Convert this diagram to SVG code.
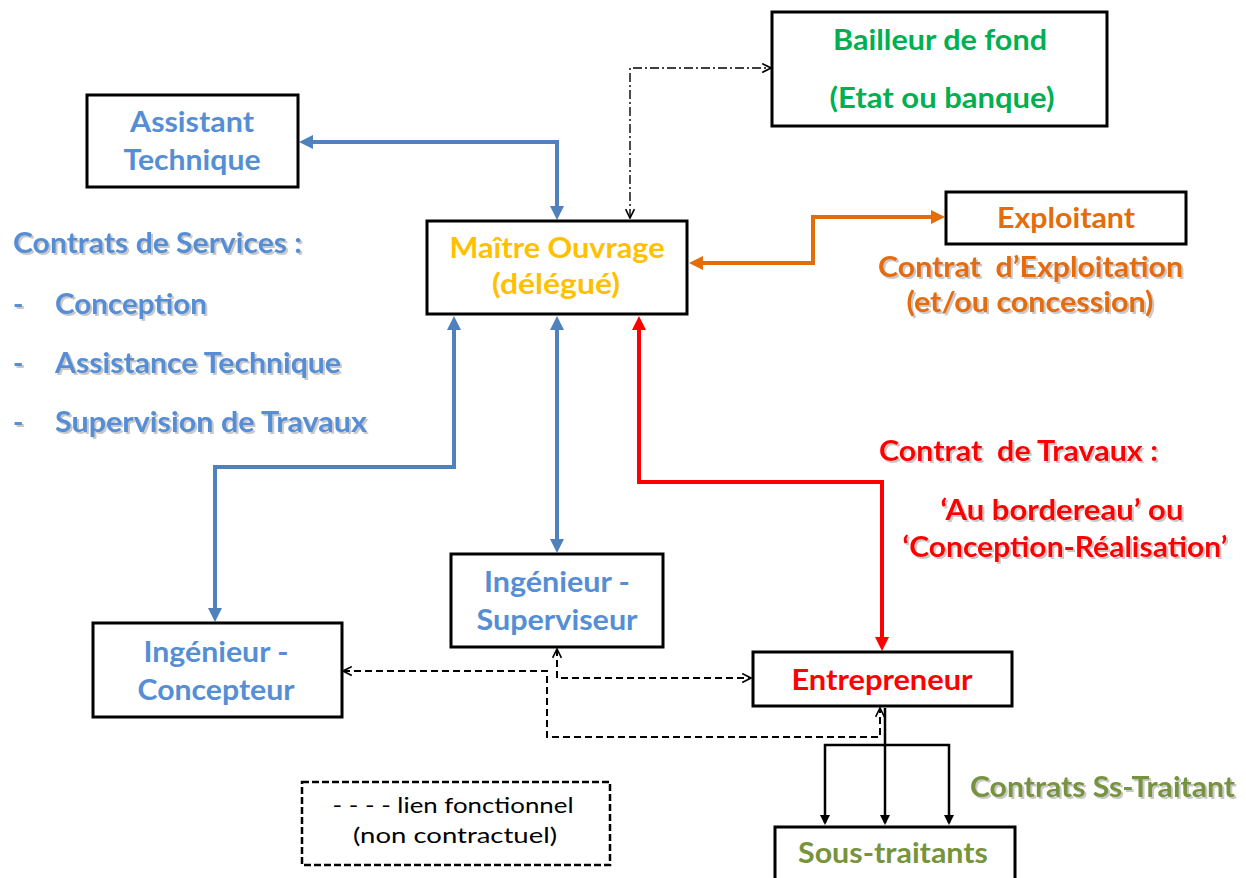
<svg xmlns="http://www.w3.org/2000/svg" width="1246" height="878" viewBox="0 0 1246 878">
<style>
.box{fill:#fff;stroke:#000;stroke-width:3}
.t{font-family:Lato,"Open Sans","DejaVu Sans",sans-serif;font-weight:bold;font-size:29px;text-anchor:middle}
.l{font-family:Lato,"Open Sans","DejaVu Sans",sans-serif;font-weight:bold;font-size:28px}
.blue{fill:#558ED5}.yel{fill:#FFC000}.grn{fill:#00B050}.org{fill:#E46C0A}.red{fill:#FF0000}.olv{fill:#77933C}
.sh{filter:url(#shadow)}
.cb{fill:none;stroke:#4F81BD;stroke-width:4}
.co{fill:none;stroke:#E46C0A;stroke-width:4}
.cr{fill:none;stroke:#FF0000;stroke-width:4}
.ck{fill:none;stroke:#000;stroke-width:2.5}
.cd{fill:none;stroke:#000;stroke-width:2;stroke-dasharray:7 4}
.cdd{fill:none;stroke:#000;stroke-width:1.4;stroke-dasharray:9 3 2 3}
.leg{font-family:Lato,"Open Sans","DejaVu Sans",sans-serif;font-size:22px;text-anchor:middle;fill:#000}
</style>
<defs>
<filter id="shadow" x="-5%" y="-20%" width="110%" height="150%">
<feDropShadow dx="2" dy="2" stdDeviation="0.7" flood-color="#888" flood-opacity="0.45"/>
</filter>
<marker id="mB" viewBox="0 0 14 14" refX="10" refY="7" markerWidth="14" markerHeight="14" markerUnits="userSpaceOnUse" orient="auto-start-reverse"><path d="M0,0 L14,7 L0,14 z" fill="#4F81BD"/></marker>
<marker id="mO" viewBox="0 0 14 14" refX="10" refY="7" markerWidth="14" markerHeight="14" markerUnits="userSpaceOnUse" orient="auto-start-reverse"><path d="M0,0 L14,7 L0,14 z" fill="#E46C0A"/></marker>
<marker id="mR" viewBox="0 0 14 14" refX="10" refY="7" markerWidth="14" markerHeight="14" markerUnits="userSpaceOnUse" orient="auto-start-reverse"><path d="M0,0 L14,7 L0,14 z" fill="#FF0000"/></marker>
<marker id="mK" viewBox="0 0 10 10" refX="8" refY="5" markerWidth="10" markerHeight="10" markerUnits="userSpaceOnUse" orient="auto-start-reverse"><path d="M0,0 L10,5 L0,10 z" fill="#000"/></marker>
<marker id="mV" viewBox="0 0 10 10" refX="9" refY="5" markerWidth="11" markerHeight="11" markerUnits="userSpaceOnUse" orient="auto-start-reverse"><path d="M1,1 L9,5 L1,9" fill="none" stroke="#000" stroke-width="1.5"/></marker>
</defs>

<g id="connectors">
<path class="cb" d="M303,142 H557 V216" marker-start="url(#mB)" marker-end="url(#mB)"/>
<path class="cb" d="M454,320 V467 H215 V618" marker-start="url(#mB)" marker-end="url(#mB)"/>
<path class="cb" d="M557,320 V549" marker-start="url(#mB)" marker-end="url(#mB)"/>
<path class="co" d="M693,263 H813 V217 H941" marker-start="url(#mO)" marker-end="url(#mO)"/>
<path class="cr" d="M639,320 V482 H882 V647" marker-start="url(#mR)" marker-end="url(#mR)"/>
<path class="ck" d="M885,708 V823" marker-end="url(#mK)"/>
<path class="ck" d="M825,823 V745 H949 V823" marker-start="url(#mK)" marker-end="url(#mK)"/>
<path class="cdd" d="M630,218 V68 H771" marker-start="url(#mV)" marker-end="url(#mV)"/>
<path class="cd" d="M343,671 H547 V737 H880 V708" marker-start="url(#mV)" marker-end="url(#mV)"/>
<path class="cd" d="M557,649 V678 H751" marker-start="url(#mV)" marker-end="url(#mV)"/>
</g>

<g id="bailleur">
<rect class="box" x="772" y="12" width="335" height="114"/>
<text class="t grn" x="940" y="50" textLength="214" lengthAdjust="spacingAndGlyphs">Bailleur de fond</text>
<text class="t grn" x="942" y="108" textLength="225" lengthAdjust="spacingAndGlyphs">(Etat ou banque)</text>
</g>

<g id="assistant">
<rect class="box" x="87" y="95" width="211" height="92"/>
<text class="t blue" x="192" y="132" textLength="124" lengthAdjust="spacingAndGlyphs">Assistant</text>
<text class="t blue" x="192" y="170" textLength="137" lengthAdjust="spacingAndGlyphs">Technique</text>
</g>

<g id="maitre">
<rect class="box" x="427" y="221" width="260" height="93"/>
<text class="t yel" x="557" y="258" textLength="215" lengthAdjust="spacingAndGlyphs">Maître Ouvrage</text>
<text class="t yel" x="556" y="294" textLength="128" lengthAdjust="spacingAndGlyphs">(délégué)</text>
</g>

<g id="exploitant">
<rect class="box" x="946" y="192" width="240" height="52"/>
<text class="t org" x="1066" y="228" textLength="138" lengthAdjust="spacingAndGlyphs">Exploitant</text>
</g>

<g id="concepteur">
<rect class="box" x="93" y="623" width="249" height="94"/>
<text class="t blue" x="216" y="662" textLength="145" lengthAdjust="spacingAndGlyphs">Ingénieur -</text>
<text class="t blue" x="216" y="700" textLength="157" lengthAdjust="spacingAndGlyphs">Concepteur</text>
</g>

<g id="superviseur">
<rect class="box" x="451" y="554" width="212" height="93"/>
<text class="t blue" x="557" y="592" textLength="146" lengthAdjust="spacingAndGlyphs">Ingénieur -</text>
<text class="t blue" x="557" y="630" textLength="161" lengthAdjust="spacingAndGlyphs">Superviseur</text>
</g>

<g id="entrepreneur">
<rect class="box" x="753" y="652" width="259" height="54"/>
<text class="t red" x="882" y="690" textLength="181" lengthAdjust="spacingAndGlyphs">Entrepreneur</text>
</g>

<g id="soustraitants">
<rect class="box" x="775" y="827" width="240" height="70"/>
<text class="t olv" x="893" y="863" textLength="190" lengthAdjust="spacingAndGlyphs">Sous-traitants</text>
</g>

<g id="legende">
<rect x="302" y="782" width="308" height="83" fill="#fff" stroke="#000" stroke-width="2.5" stroke-dasharray="7 3"/>
<text class="leg" x="453" y="813" textLength="241" lengthAdjust="spacingAndGlyphs">- - - - lien fonctionnel</text>
<text class="leg" x="455" y="843" textLength="204" lengthAdjust="spacingAndGlyphs">(non contractuel)</text>
</g>

<g id="labels">
<text class="l blue sh" x="13" y="253" textLength="289" lengthAdjust="spacingAndGlyphs">Contrats de Services :</text>
<text class="l blue sh" x="13" y="314">-</text>
<text class="l blue sh" x="55" y="314" textLength="152" lengthAdjust="spacingAndGlyphs">Conception</text>
<text class="l blue sh" x="13" y="373">-</text>
<text class="l blue sh" x="55" y="373" textLength="286" lengthAdjust="spacingAndGlyphs">Assistance Technique</text>
<text class="l blue sh" x="13" y="432">-</text>
<text class="l blue sh" x="55" y="432" textLength="312" lengthAdjust="spacingAndGlyphs">Supervision de Travaux</text>
<text class="l org sh" x="878" y="277" textLength="305" lengthAdjust="spacingAndGlyphs" xml:space="preserve">Contrat  d’Exploitation</text>
<text class="t org sh" x="1030" y="312" style="font-size:28px" textLength="247" lengthAdjust="spacingAndGlyphs">(et/ou concession)</text>
<text class="l red sh" x="879" y="461" textLength="279" lengthAdjust="spacingAndGlyphs" xml:space="preserve">Contrat  de Travaux :</text>
<text class="t red sh" x="1062" y="520" style="font-size:28px" textLength="243" lengthAdjust="spacingAndGlyphs">‘Au bordereau’ ou</text>
<text class="t red sh" x="1065" y="557" style="font-size:28px" textLength="325" lengthAdjust="spacingAndGlyphs">‘Conception-Réalisation’</text>
<text class="l olv sh" x="970" y="797" textLength="265" lengthAdjust="spacingAndGlyphs">Contrats Ss-Traitant</text>
</g>
</svg>
